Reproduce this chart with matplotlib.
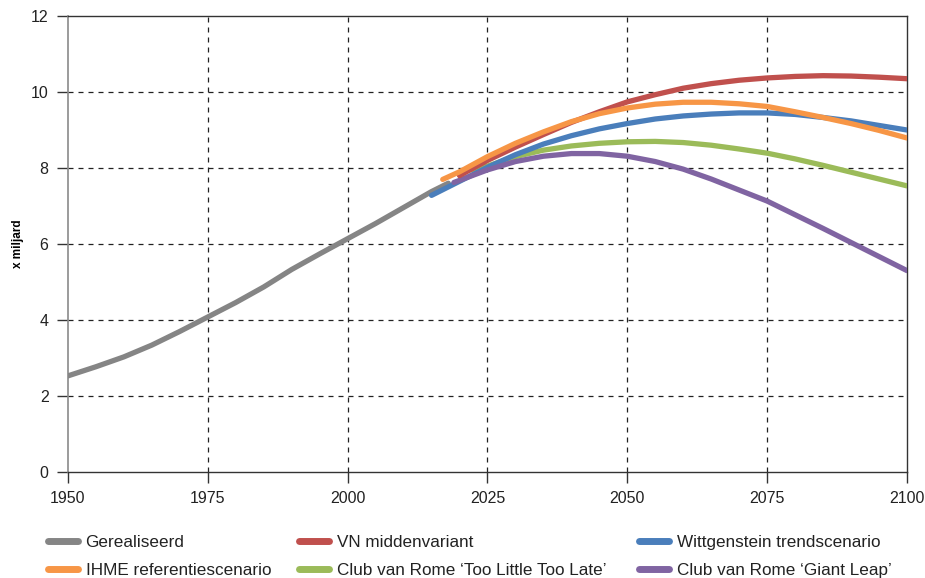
import matplotlib
matplotlib.use("Agg")
import matplotlib.pyplot as plt
from matplotlib.lines import Line2D

plt.rcParams['font.family'] = ['Liberation Sans', 'DejaVu Sans']

# gerealiseerd
hist_years = [1950, 1955, 1960, 1965, 1970, 1975, 1980, 1985, 1990, 1995, 2000, 2005, 2010, 2015, 2018]
hist_vals = [2.53, 2.77, 3.03, 3.34, 3.70, 4.08, 4.46, 4.87, 5.33, 5.74, 6.14, 6.54, 6.96, 7.38, 7.60]

# VN middenvariant
vn_years = [2020, 2025, 2030, 2035, 2040, 2045, 2050, 2055, 2060, 2065, 2070, 2075, 2080, 2085, 2090, 2095, 2100]
vn_vals = [7.80, 8.20, 8.55, 8.88, 9.20, 9.48, 9.74, 9.93, 10.10, 10.22, 10.31, 10.37, 10.41, 10.43, 10.42, 10.39, 10.35]

# IHME referentiescenario
ihme_years = [2017, 2020, 2025, 2030, 2035, 2040, 2045, 2050, 2055, 2060, 2065, 2070, 2075, 2080, 2085, 2090, 2095, 2100]
ihme_vals = [7.70, 7.90, 8.30, 8.65, 8.95, 9.22, 9.43, 9.58, 9.68, 9.73, 9.73, 9.69, 9.62, 9.48, 9.33, 9.17, 8.99, 8.79]

# Wittgenstein trendscenario
witt_years = [2015, 2020, 2025, 2030, 2035, 2040, 2045, 2050, 2055, 2060, 2065, 2070, 2075, 2080, 2085, 2090, 2095, 2100]
witt_vals = [7.28, 7.65, 8.02, 8.35, 8.63, 8.85, 9.03, 9.17, 9.29, 9.37, 9.42, 9.45, 9.45, 9.41, 9.33, 9.24, 9.12, 9.00]

# Club van Rome 'Too Little Too Late'
tltl_years = [2022, 2025, 2030, 2035, 2040, 2045, 2050, 2055, 2060, 2065, 2070, 2075, 2080, 2085, 2090, 2095, 2100]
tltl_vals = [7.95, 8.05, 8.30, 8.47, 8.58, 8.65, 8.69, 8.70, 8.67, 8.60, 8.50, 8.39, 8.24, 8.07, 7.89, 7.71, 7.53]

# Club van Rome 'Giant Leap'
gl_years = [2019, 2025, 2030, 2035, 2040, 2045, 2050, 2055, 2060, 2065, 2070, 2075, 2080, 2085, 2090, 2095, 2100]
gl_vals = [7.62, 7.95, 8.17, 8.31, 8.38, 8.38, 8.31, 8.17, 7.97, 7.71, 7.42, 7.13, 6.77, 6.41, 6.04, 5.67, 5.30]

x_ticks = [1950, 1975, 2000, 2025, 2050, 2075, 2100]
y_ticks = [0, 2, 4, 6, 8, 10, 12]

c_gray = "#858585"
c_red = "#c0504d"
c_orange = "#f79646"
c_blue = "#4a7ebb"
c_green = "#9bbb59"
c_purple = "#8064a2"

fig = plt.figure(figsize=(9.25, 5.78), dpi=100)
ax = fig.add_axes([0.0735, 0.1834, 0.9070, 0.7889])

lw = 3.8
ax.plot(hist_years, hist_vals, color=c_gray, lw=lw, solid_capstyle='round', zorder=3)
ax.plot(tltl_years, tltl_vals, color=c_green, lw=lw, solid_capstyle='round', zorder=3)
ax.plot(witt_years, witt_vals, color=c_blue, lw=lw, solid_capstyle='round', zorder=3)
ax.plot(gl_years, gl_vals, color=c_purple, lw=lw, solid_capstyle='round', zorder=3)
ax.plot(vn_years, vn_vals, color=c_red, lw=lw, solid_capstyle='round', zorder=3)
ax.plot(ihme_years, ihme_vals, color=c_orange, lw=lw, solid_capstyle='round', zorder=4)

ax.set_xlim(1950, 2100)
ax.set_ylim(0, 12)
ax.set_xticks(x_ticks)
ax.set_yticks(y_ticks)
ax.tick_params(axis='both', direction='out', length=8, width=1, color='#333333',
               labelsize=11.5, labelcolor='#222222')
ax.tick_params(axis='y', pad=6)
ax.tick_params(axis='x', pad=6)

# dashed grid (not on the frame)
for x in x_ticks[1:-1]:
    ax.axvline(x, color='#222222', lw=0.9, ls=(0, (4, 4)), zorder=1)
for y in y_ticks[1:-1]:
    ax.axhline(y, color='#222222', lw=0.9, ls=(0, (4, 4)), zorder=1)

for s in ['top', 'right', 'bottom']:
    ax.spines[s].set_color('#333333')
    ax.spines[s].set_linewidth(1)
ax.spines['left'].set_color('#8a8a8a')
ax.spines['left'].set_linewidth(1.2)

ax.set_ylabel("x miljard", fontsize=8.5, fontweight='bold', labelpad=5)

legend_cols = [
    (48, [c_gray, c_orange], ["Gerealiseerd", "IHME referentiescenario"]),
    (299, [c_red, c_green], ["VN middenvariant", "Club van Rome \u2018Too Little Too Late\u2019"]),
    (639, [c_blue, c_purple], ["Wittgenstein trendscenario", "Club van Rome \u2018Giant Leap\u2019"]),
]
for x0, cols, labs in legend_cols:
    hs = [Line2D([], [], color=c, lw=5, solid_capstyle='round') for c in cols]
    fig.legend(hs, labs, loc='upper left', bbox_to_anchor=(x0 / 925, 1 - 535 / 578),
               frameon=False, fontsize=12.3, handlelength=1.75, handletextpad=0.45,
               labelspacing=0.78, borderpad=0, borderaxespad=0, labelcolor='#222222')

plt.savefig("out.png", dpi=100)
